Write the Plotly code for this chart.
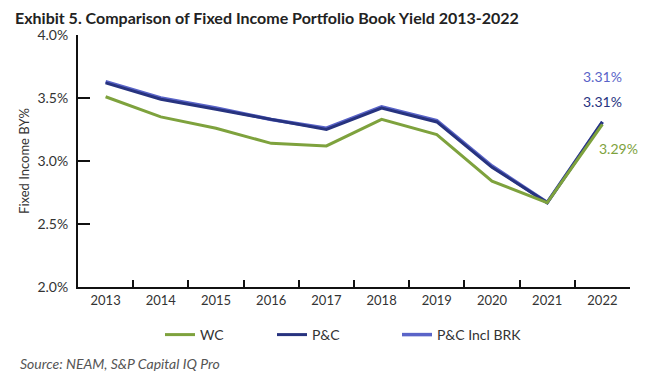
import plotly.graph_objects as go

years = ["2013", "2014", "2015", "2016", "2017", "2018", "2019", "2020", "2021", "2022"]
wc = [3.51, 3.35, 3.26, 3.14, 3.12, 3.33, 3.21, 2.84, 2.67, 3.29]
pc = [3.62, 3.49, 3.41, 3.33, 3.25, 3.42, 3.31, 2.95, 2.67, 3.31]
pc_brk = [3.63, 3.50, 3.42, 3.33, 3.26, 3.43, 3.32, 2.96, 2.67, 3.31]
y_ticks = [2.0, 2.5, 3.0, 3.5, 4.0]

C_WC = "#7ea23d"
C_PC = "#27337f"
C_BRK = "#5a64c8"
FONT = "Lato"

fig = go.Figure()
fig.add_trace(go.Scatter(x=years, y=pc_brk, mode="lines", name="P&C Incl BRK",
                         line=dict(color=C_BRK, width=3.5), legend="legend3", showlegend=True))
fig.add_trace(go.Scatter(x=years, y=pc, mode="lines", name="P&C",
                         line=dict(color=C_PC, width=3), legend="legend2", showlegend=True))
fig.add_trace(go.Scatter(x=years, y=wc, mode="lines", name="WC",
                         line=dict(color=C_WC, width=3), legend="legend", showlegend=True))

# end labels
fig.add_annotation(x=9, y=pc_brk[-1], text=f"{pc_brk[-1]:.2f}%", showarrow=False,
                   yshift=45, font=dict(color=C_BRK, size=14, family=FONT))
fig.add_annotation(x=9, y=pc[-1], text=f"{pc[-1]:.2f}%", showarrow=False,
                   yshift=20, font=dict(color=C_PC, size=14, family=FONT))
fig.add_annotation(x=9, y=wc[-1], text=f"{wc[-1]:.2f}%", showarrow=False,
                   xshift=16, yshift=-24, font=dict(color=C_WC, size=14, family=FONT))

fig.add_annotation(xref="paper", yref="paper", x=-60/552, y=-76/252, xanchor="left", yanchor="middle",
                   text="<i>Source: NEAM, S&P Capital IQ Pro</i>", showarrow=False,
                   font=dict(size=14, color="#555555", family=FONT))

leg_common = dict(orientation="h", yanchor="middle", xanchor="left", bgcolor="rgba(0,0,0,0)",
                  font=dict(size=14, color="#333333", family=FONT))
fig.update_layout(
    width=650, height=375, showlegend=True,
    margin=dict(l=78, r=20, t=35, b=88, autoexpand=False),
    paper_bgcolor="white", plot_bgcolor="white",
    font=dict(family=FONT, color="#333333"),
    title=dict(text="<b>Exhibit 5. Comparison of Fixed Income Portfolio Book Yield 2013-2022</b>",
               x=15/650, xanchor="left", y=1-18/375, yanchor="middle", xref="container", yref="container",
               font=dict(size=16, color="#222222", family=FONT)),
    legend=dict(x=(160-78)/552, y=-48/252, **leg_common),
    legend2=dict(x=(272-78)/552, y=-48/252, **leg_common),
    legend3=dict(x=(397-78)/552, y=-48/252, **leg_common),
    xaxis=dict(type="category", range=[-0.5, 9.5], showline=True, linecolor="#111111", linewidth=2,
               ticks="inside", tickson="boundaries", ticklen=7, tickwidth=2, tickcolor="#111111",
               showgrid=False, automargin=False, tickfont=dict(size=13, color="#333333", family=FONT)),
    yaxis=dict(range=[2.0, 4.0], tickvals=y_ticks, ticktext=[f"{v:.1f}%" for v in y_ticks],
               showline=True, linecolor="#111111", linewidth=2, automargin=False,
               ticks="inside", ticklen=12, tickwidth=2, tickcolor="#111111", showgrid=False, zeroline=False,
               ticklabelstandoff=5,
               tickfont=dict(size=14, color="#333333", family=FONT),
               title=dict(text="Fixed Income BY%", font=dict(size=13, color="#333333", family=FONT), standoff=5)),
)

fig.write_html("out.html", config={"displayModeBar": False},
               post_script="document.body.style.margin='0';")
